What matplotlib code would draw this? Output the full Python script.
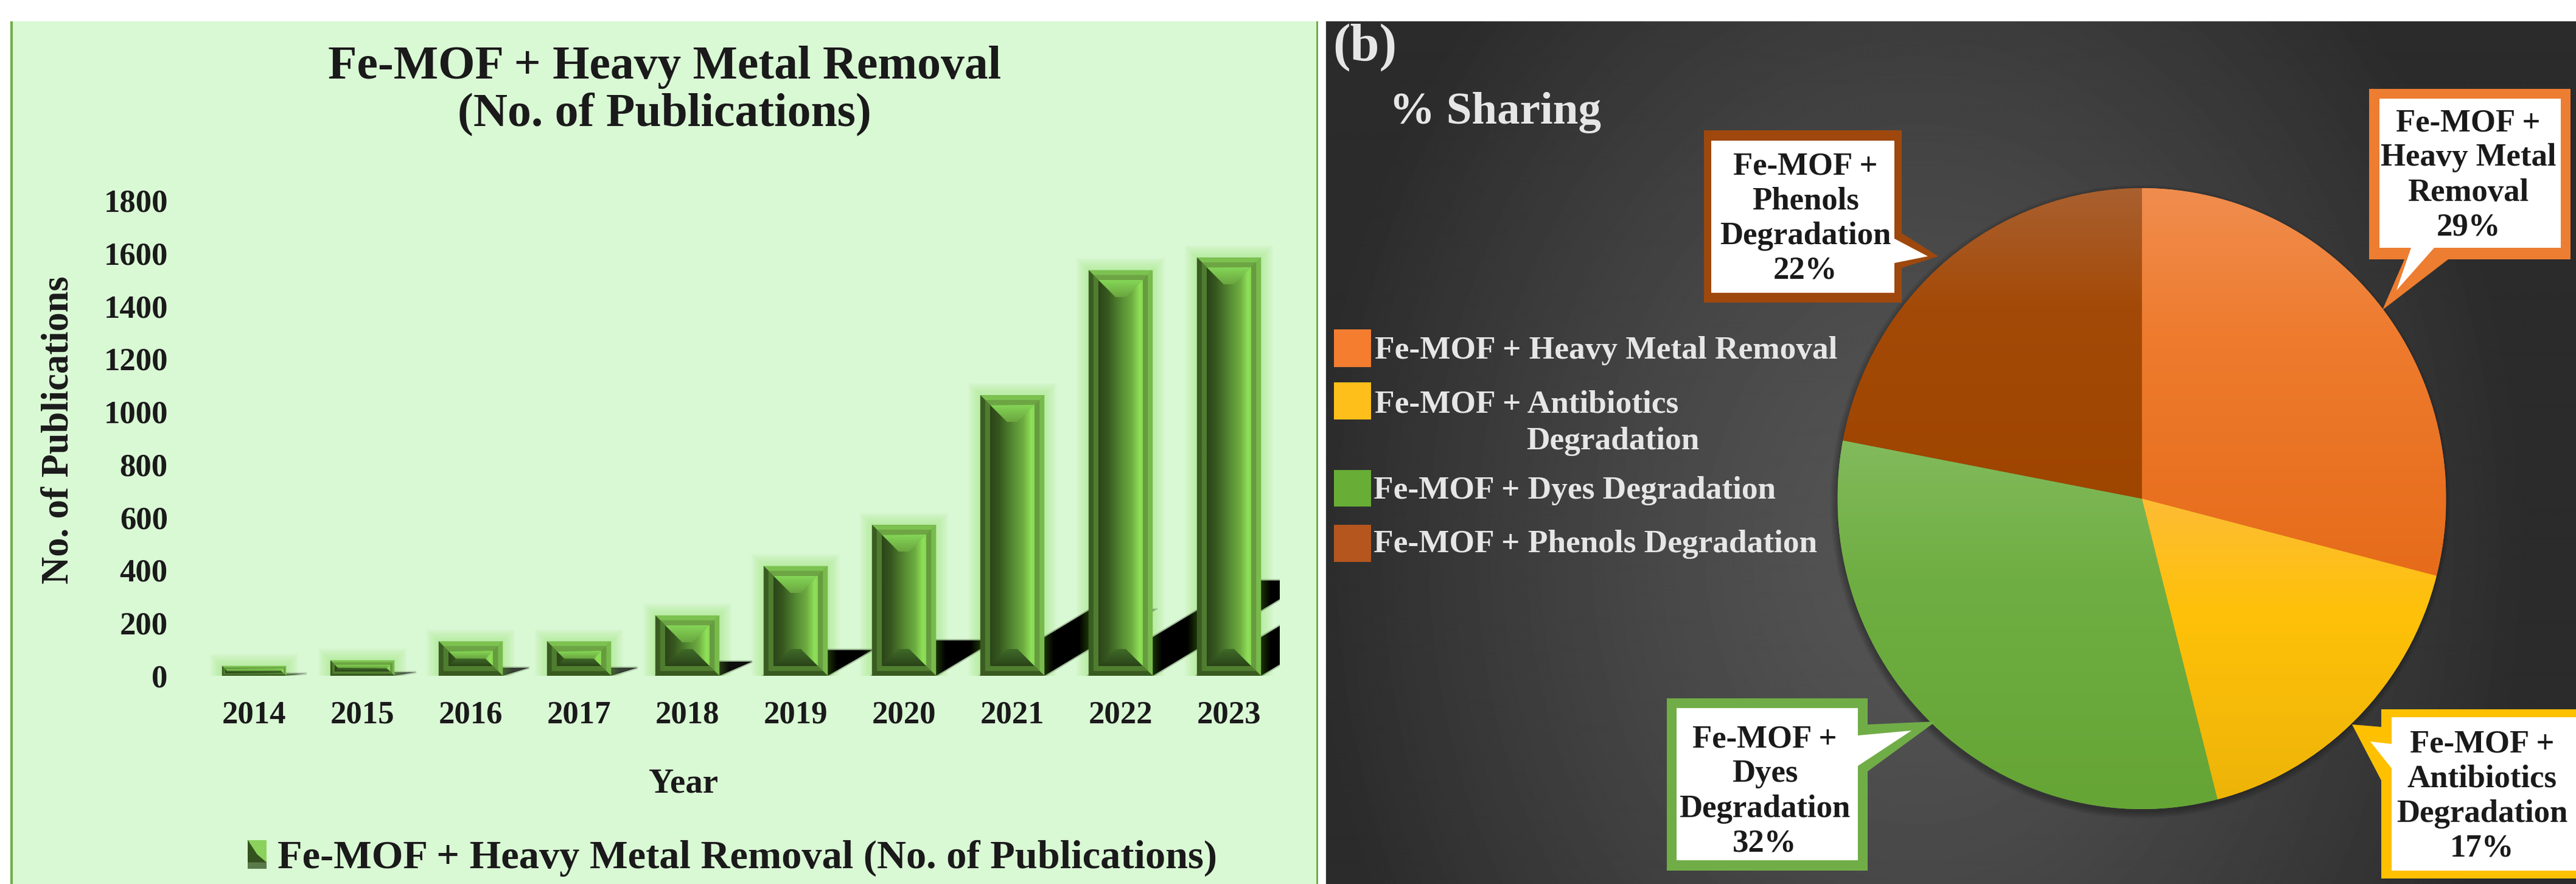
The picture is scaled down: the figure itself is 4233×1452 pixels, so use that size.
import numpy as np
import matplotlib
matplotlib.use('Agg')
import matplotlib.pyplot as plt
from matplotlib.colors import LinearSegmentedColormap, to_rgb
from matplotlib.legend_handler import HandlerBase
from matplotlib.patches import Ellipse, Patch, Polygon, Rectangle

plt.rcParams['font.family'] = ['Liberation Serif', 'DejaVu Serif']
plt.rcParams['font.weight'] = 'bold'
plt.rcParams['axes.labelweight'] = 'bold'

years = [2014, 2015, 2016, 2017, 2018, 2019, 2020, 2021, 2022, 2023]
publications = [37, 58, 130, 130, 228, 415, 571, 1062, 1535, 1583]
y_ticks = [0, 200, 400, 600, 800, 1000, 1200, 1400, 1600, 1800]

share_names = ['Fe-MOF + Heavy Metal Removal', 'Fe-MOF + Antibiotics Degradation',
               'Fe-MOF + Dyes Degradation', 'Fe-MOF + Phenols Degradation']
shares = [29, 17, 32, 22]
share_colors = ['#ED7D31', '#FFC000', '#70AD47', '#9E480E']
swatch_colors = ['#F47D30', '#FFBF1A', '#68AD36', '#B5561E']
# top, upper middle, bottom shade of each slice
slice_shades = [['#F08D4E', '#EE7B2E', '#E66C1A'],
                ['#FDBC34', '#FFC108', '#EDB408'],
                ['#82BA5C', '#6FAE42', '#65A535'],
                ['#A9602F', '#A44A08', '#9E4500']]
callout_names = [['Fe-MOF +', 'Heavy Metal', 'Removal'],
                 ['Fe-MOF +', 'Antibiotics', 'Degradation'],
                 ['Fe-MOF +', 'Dyes', 'Degradation'],
                 ['Fe-MOF +', 'Phenols', 'Degradation']]

W, H = 4233, 1452
INK = '#1a1a1a'
PALE = '#e6e6e6'
MINT = '#D9F8D4'
RIM = '#70AD47'


def box(left, top, right, bottom):
    # pixel box from the top-left corner -> figure fractions
    return [left / W, 1 - bottom / H, (right - left) / W, (bottom - top) / H]


fig = plt.figure(figsize=(W / 100, H / 100), dpi=100, facecolor='white')

# panels behind everything
bg = fig.add_axes([0, 0, 1, 1], zorder=0)
bg.set_xlim(0, W)
bg.set_ylim(H, 0)
bg.axis('off')
bg.add_patch(Rectangle((17, 35), 2149, H - 35, fc=MINT, ec='none'))
bg.add_patch(Rectangle((17, 35), 3.5, H - 35, fc=RIM, ec='none'))
bg.add_patch(Rectangle((2162.5, 35), 3.5, H - 35, fc=RIM, ec='none'))

xx, yy = np.meshgrid(np.arange(2179, W, 2), np.arange(35, H, 2))
dist = np.hypot((xx - 3150) / 1000, (yy - 900) / 1300)
glow = 0.335 - 0.165 * np.clip(dist, 0, 1) ** 1.3
bg.imshow(glow, extent=(2179, W, H, 35), cmap='gray', vmin=0, vmax=1, aspect='auto',
          interpolation='bilinear', zorder=1)
bg.set_xlim(0, W)
bg.set_ylim(H, 0)

# soft shadow under the pie
for grow in range(6):
    bg.add_patch(Ellipse((3517, 824), 2 * (499 + grow * 2), 2 * (510 + grow * 2),
                         fc='black', ec='none', alpha=0.05, zorder=2))

# ---- (a) bars ----
ax = fig.add_axes(box(330, 329, 2103, 1110), zorder=1)
ax.patch.set_visible(False)
x_lim = (-0.4916, 9.469)
y_lim = (0, 1800)
xs = np.arange(len(years))
px_x = (x_lim[1] - x_lim[0]) / 1773
px_y = (y_lim[1] - y_lim[0]) / 781

face_map = LinearSegmentedColormap.from_list('face', [
    (0, '#2c4519'), (0.2, '#37581f'), (0.5, '#558a33'), (0.75, '#6fae41'), (0.92, '#8fe05a'), (1, '#86d850')])
top_map = LinearSegmentedColormap.from_list('top', ['#6aa640', '#85d657'])
bottom_map = LinearSegmentedColormap.from_list('bottom', ['#2a4418', '#3f6a28'])


def frame(x0, x1, y0, y1, tx, ty, colors, z):
    # four mitred strips: top, right, bottom, left
    outer = [(x0, y1), (x1, y1), (x1, y0), (x0, y0)]
    inner = [(x0 + tx, y1 - ty), (x1 - tx, y1 - ty), (x1 - tx, y0 + ty), (x0 + tx, y0 + ty)]
    for k, c in enumerate(colors):
        j = (k + 1) % 4
        ax.add_patch(Polygon([outer[k], outer[j], inner[j], inner[k]], fc=c, ec=c, lw=0.3, zorder=z))


def gradient(cmap, x0, x1, y0, y1, vertical, pts, z):
    data = np.linspace(0, 1, 64)
    data = data[:, None] if vertical else data[None, :]
    im = ax.imshow(data, cmap=cmap, extent=(x0, x1, y0, y1), origin='lower', aspect='auto',
                   interpolation='bilinear', zorder=z)
    im.set_clip_path(Polygon(pts, transform=ax.transData))


def bevel(bar):
    x0, x1 = bar.get_x(), bar.get_x() + bar.get_width()
    y0, y1 = 0, bar.get_height()
    h_px = y1 / px_y
    t = min(8, h_px * 0.14)
    tx, ty = t * px_x, t * px_y
    frame(x0, x1, y0, y1, tx, ty, ['#7cc250', '#78bb4c', '#38591f', '#3a5c22'], 5)
    frame(x0 + tx, x1 - tx, y0 + ty, y1 - ty, tx, ty, ['#6ea544', '#669c3f', '#507f30', '#4f7d30'], 5)
    ix0, ix1 = x0 + 2 * tx, x1 - 2 * tx
    iy0, iy1 = y0 + 2 * ty, y1 - 2 * ty
    gradient(face_map, ix0, ix1, iy0, iy1, False, [(ix0, iy0), (ix1, iy0), (ix1, iy1), (ix0, iy1)], 6)
    d = min(28, (iy1 - iy0) / px_y / 2)
    dx, dy = d * px_x, d * px_y
    gradient(top_map, ix0, ix1, iy1 - dy, iy1, True,
             [(ix0, iy1), (ix1, iy1), (ix1 - dx, iy1 - dy), (ix0 + dx, iy1 - dy)], 7)
    gradient(bottom_map, ix0, ix1, iy0, iy0 + dy, True,
             [(ix0, iy0), (ix1, iy0), (ix1 - dx, iy0 + dy), (ix0 + dx, iy0 + dy)], 7)


bars = ax.bar(xs, publications, width=105 / 178, color='#4d7d2e', zorder=4)

# dark green where a shadow meets a bar, black elsewhere
cols = x_lim[0] + (np.arange(1773) + 0.5) * px_x
edges = np.array([[b.get_x(), b.get_x() + b.get_width()] for b in bars]).ravel()
near = np.abs(cols[:, None] - edges[None, :]).min(axis=1) / px_x
mix = np.clip(near / 16, 0, 1)[None, :, None]
shadow_img = (1 - mix) * np.array(to_rgb('#1c3408'))[None, None, :]

for bar in bars:
    x0, x1 = bar.get_x(), bar.get_x() + bar.get_width()
    h = bar.get_height()
    h_px = h / px_y
    # halo round the bar, cut off at the base line
    for g in range(1, 11):
        ax.add_patch(Rectangle((x0 - 2 * g * px_x, 0), x1 - x0 + 4 * g * px_x, h + 2 * g * px_y,
                               fc='#a6e884', ec='none', alpha=0.075, zorder=1))
    # sheared cast shadow
    s_h = 0.235 * h
    s_dx = (0.39 * h_px + 30 * (1 - min(h_px / 200, 1))) * px_x
    pts = [(x0, 0), (x1, 0), (x1 + s_dx, s_h), (x0 + s_dx, s_h)]
    alpha = min(1, 0.45 + h_px / 200)
    ax.add_patch(Polygon(pts, fc='none', ec='#5f7355', lw=3, alpha=0.45 * alpha, zorder=2))
    im = ax.imshow(shadow_img, extent=(x_lim[0], x_lim[1], 0, 1800), aspect='auto', alpha=alpha, zorder=3)
    im.set_clip_path(Polygon(pts, transform=ax.transData))
    bevel(bar)

ax.set_xlim(*x_lim)
ax.set_ylim(*y_lim)
ax.set_xticks(xs, [str(y) for y in years])
ax.set_yticks(y_ticks)
ax.tick_params(axis='x', length=0, pad=29, labelsize=38, labelcolor=INK)
ax.tick_params(axis='y', length=0, pad=39, labelsize=38, labelcolor=INK)
for side in ax.spines.values():
    side.set_visible(False)
ax.set_xlabel('Year', fontsize=41, color=INK, va='center')
ax.xaxis.set_label_coords((1123 - 330) / 1773, -(1288 - 1110) / 781)
ax.set_ylabel('No. of Publications', fontsize=45, color=INK, va='center')
ax.yaxis.set_label_coords((97 - 330) / 1773, (1110 - 706) / 781)


class BevelHandle(HandlerBase):
    def create_artists(self, legend, orig, xdescent, ydescent, width, height, fontsize, trans):
        x0, y0 = -xdescent, -ydescent
        x1, y1 = x0 + width, y0 + height
        mx, my = x0 + width * 0.5, y0 + height * 0.5
        strip = y0 + height * 0.22
        parts = [([(x0, y0), (x1, y0), (x1, y1), (x0, y1)], '#5a7a4a'),
                 ([(x0, strip), (x1, strip), (x1, y1), (x0, y1)], '#8bd25c'),
                 ([(x0, y1), (x0, strip), (x1, strip), (mx, my)], '#33521e')]
        return [Polygon(p, fc=c, ec='none', transform=trans) for p, c in parts]


ax.legend(handles=[Patch()], labels=['Fe-MOF + Heavy Metal Removal (No. of Publications)'],
          handler_map={Patch: BevelHandle()}, loc='center left',
          bbox_to_anchor=(407 / W, 1 - 1410 / H), bbox_transform=fig.transFigure,
          frameon=False, borderpad=0, borderaxespad=0, handlelength=0.467, handleheight=0.72,
          handletextpad=0.27, prop={'size': 47.8, 'weight': 'bold'}, labelcolor=INK)

# ---- (b) pie ----
pie_ax = fig.add_axes(box(3519.5 - 510, 819 - 520, 3519.5 + 510, 819 + 520), zorder=1)
wedges, _ = pie_ax.pie(shares, colors=share_colors, startangle=90, counterclock=False,
                       wedgeprops={'linewidth': 0})
pie_ax.set_aspect('auto')
for wedge, shade in zip(wedges, slice_shades):
    # each slice gets its own top-to-bottom shading
    ext = wedge.get_path().get_extents(wedge.get_patch_transform())
    cmap = LinearSegmentedColormap.from_list('slice', [(0, shade[2]), (0.62, shade[1]), (1, shade[0])])
    im = pie_ax.imshow(np.linspace(0, 1, 128)[:, None], cmap=cmap, origin='lower', aspect='auto',
                       extent=(ext.x0, ext.x1, ext.y0, ext.y1), interpolation='bilinear', zorder=2)
    im.set_clip_path(wedge)
pie_ax.set_xlim(-510 / 500, 510 / 500)
pie_ax.set_ylim(-520 / 510, 520 / 510)

# ---- text and call-outs on top ----
top = fig.add_axes([0, 0, 1, 1], zorder=3)
top.patch.set_visible(False)
top.set_xlim(0, W)
top.set_ylim(H, 0)
top.axis('off')

top.text(1092, 149, 'Fe-MOF + Heavy Metal Removal\n(No. of Publications)', fontsize=55.9, color=INK,
         ha='center', va='center', linespacing=1.09)
top.text(2190, 78, '(b)', fontsize=62, color=PALE, va='center')
top.text(2283, 185, '% Sharing', fontsize=54, color=PALE, va='center')

legend_rows = [(541, 603, 576, 2259), (628, 689, 664, 2259), (772, 832, 806, 2257), (862, 923, 894, 2257)]
for (y0, y1, ty, tx), name, color in zip(legend_rows, share_names, swatch_colors):
    top.add_patch(Rectangle((2192, y0), 61, y1 - y0, fc=color, ec='none'))
    first = name.replace(' Degradation', '') if 'Antibiotics' in name else name
    top.text(tx, ty, first, fontsize=38.4, color=PALE, va='center')
top.text(2508, 725, 'Degradation', fontsize=38.4, color=PALE, va='center')

callouts = [
    # outer outline, inner white outline, text centre
    ([(3893, 146), (4224, 146), (4224, 426), (4023, 426), (3915, 509), (3951, 426), (3893, 426)],
     [(3910, 162), (4208, 162), (4208, 407), (4000, 407), (3938, 477), (3962, 407), (3910, 407)],
     (4056, 288)),
    ([(3913, 1165), (4233, 1165), (4233, 1443), (3913, 1443), (3913, 1282), (3865, 1190), (3913, 1194)],
     [(3930, 1178), (4233, 1178), (4233, 1430), (3930, 1430), (3930, 1262), (3895, 1218), (3930, 1222)],
     (4079, 1308)),
    ([(2739, 1147), (3069, 1147), (3069, 1190), (3181, 1185), (3069, 1267), (3069, 1430), (2739, 1430)],
     [(2755, 1163), (3053, 1163), (3053, 1208), (3141, 1200), (3053, 1258), (3053, 1413), (2755, 1413)],
     (2900, 1300)),
    ([(2800, 214), (3125, 214), (3125, 383), (3185, 421), (3125, 440), (3125, 497), (2800, 497)],
     [(2812, 231), (3113, 231), (3113, 392), (3168, 421), (3113, 432), (3113, 481), (2812, 481)],
     (2967, 359)),
]
for (outer, inner, centre), lines, share, color in zip(callouts, callout_names, shares, share_colors):
    top.add_patch(Polygon(outer, fc=color, ec='none'))
    top.add_patch(Polygon(inner, fc='white', ec='none'))
    top.text(centre[0], centre[1], '\n'.join(lines + [f'{share}%']), fontsize=38, color=INK,
             ha='center', va='center', linespacing=1.25)

fig.savefig('out.png', dpi=100)
